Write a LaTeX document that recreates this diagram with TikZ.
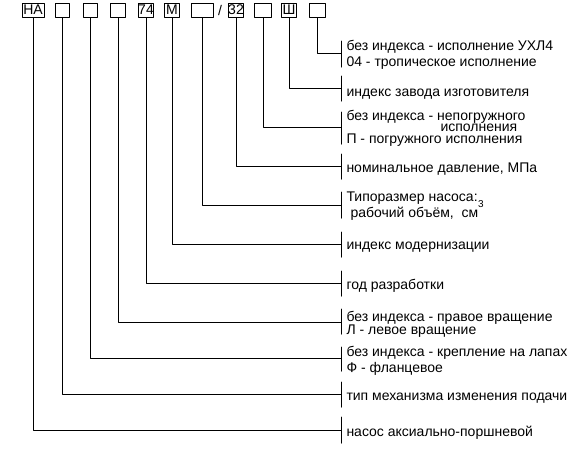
\documentclass[tikz,border=0pt]{standalone}
\usepackage{fontspec}
\setmainfont{Liberation Sans}
\begin{document}
\begin{tikzpicture}[x=1pt,y=-1pt,line join=round,line cap=round,line width=1pt,
	box/.style={draw,minimum height=14pt,inner sep=0pt,font=\fontsize{14}{16}\selectfont},
	lbl/.style={anchor=base west,inner sep=0pt,align=left,font=\fontsize{14}{16}\selectfont}]
	\useasboundingbox (0,0) rectangle (588,459);
	\foreach \n/\x/\w/\t in {1/33/22/НА,2/62/14/,3/90/14/,4/118/15/,5/146/14/74,6/172/15/М,7/202/22/,8/236/15/32,9/263/17/,10/289/15/Ш,11/317/16/}{\node[box,minimum width=\w pt] (b\n) at (\x,10) {\t};}
	\node[font=\fontsize{14}{16}\selectfont,inner sep=0pt] (sl) at (220,10) {/};
	\foreach \n/\y/\a/\b in {11/53/41/67,10/88/76/101,9/127/112/144,8/166/154/179,7/205/192/218,6/244/232/257,5/283/271/296,4/322/309/334,3/358/347/371,2/394/382/407,1/430/417/443}{
		\coordinate (k\n) at (341,\y);
		\draw (341,\a) -- (341,\b);
		\draw (b\n.south) |- (k\n);}
	% multi-line labels: base = last line
	\node[lbl] (t11) at (346,66) {без индекса - исполнение УХЛ4\\04 - тропическое исполнение};
	\node[lbl] (t10) at (346,96) {индекс завода изготовителя};
	\node[lbl] (t9) at (346,143) {без индекса - непогружного\\[-4.5pt]\hspace*{94pt}исполнения\\[-4.5pt]П - погружного исполнения};
	\node[lbl] (t8) at (346,172) {номинальное давление, МПа};
	\node[lbl] (t7) at (346,217) {Типоразмер насоса:\\\hspace*{4pt}рабочий объём,\ \ см\smash{\raisebox{10pt}{\fontsize{10}{10}\selectfont 3}}};
	\node[lbl] (t6) at (346,249) {индекс модернизации};
	\node[lbl] (t5) at (346,289) {год разработки};
	\node[lbl] (t4) at (346,334) {без индекса - правое вращение\\[-3pt]Л - левое вращение};
	\node[lbl] (t3) at (346,372) {без индекса - крепление на лапах\\Ф - фланцевое};
	\node[lbl] (t2) at (346,400) {тип механизма изменения подачи};
	\node[lbl] (t1) at (346,436) {насос аксиально-поршневой};
\end{tikzpicture}
\end{document}
